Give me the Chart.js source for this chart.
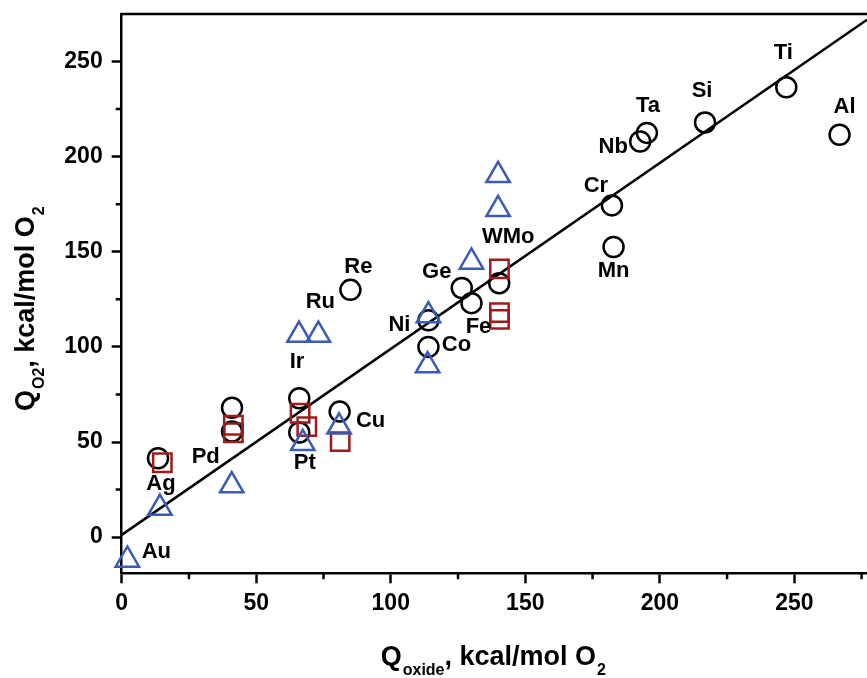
<!DOCTYPE html>
<html><head><meta charset="utf-8">
<script src="https://cdn.jsdelivr.net/npm/chart.js@4.4.0/dist/chart.umd.min.js"></script>
<style>html,body{margin:0;padding:0;background:#fff;overflow:hidden}canvas{display:block}</style>
</head><body><canvas id="c" width="867" height="678"></canvas>
<script>
// ---- data ----
const circleNames = ['Ag','Pd','Pd','Pt','Pt','Cu','Re','Ni','Co','Ge','Fe','Mo','Cr','Mn','Nb','Ta','Si','Ti','Al'];
const circleX = [13.5,41,41,66,66,81,85,114,114,126.4,130,140.3,182.2,182.8,192.7,195.2,216.8,247,266.8];
const circleY = [41.5,68,55.5,73,55,66,130,114,100,131,123,133.5,174.4,152.5,208,212.5,218,236.5,211.5];
const triangleX = [2.1,14.2,40.9,65.9,73.1,67.3,80.8,114,113.7,130,139.9,139.9];
const triangleY = [-12,15.3,27.1,106.2,106.2,49.3,58,116.5,90.2,144.7,172.3,190.2];
const squareX = [15.1,41.5,41.5,66.3,68.8,81.2,140.4,140.4,140.4];
const squareY = [39.1,58.8,54.9,65.1,58.1,50.2,141,118,114.5];
const fitX = [0, 277];
const fitY = [1.2, 272];
const xTicks = [0,50,100,150,200,250];
const xMinor = [25,75,125,175,225,275];
const yTicks = [0,50,100,150,200,250];
const yMinor = [25,75,125,175,225];
const labelNames  = ['Ti','Si','Ta','Nb','Cr','Mn','Al','WMo','Ge','Fe','Co','Ni','Re','Ru','Ir','Cu','Pt','Pd','Ag','Au'];
const labelSeries = ['c','c','c','c','c','c','c','c','c','c','c','c','c','t','t','c','t','t','c','t'];
const labelIndex  = [17,16,15,14,12,13,18,11,9,10,8,7,6,4,3,5,5,2,0,0];
const labelOffsets = [[-3,-34],[-3,-31],[1,-27],[-27,5],[-16,-19],[0,24],[5,-28],[9,-46],[-25,-16],[7,24],[28,-2],[-29,5],[8,-23],[2,-33],[-2,27],[31,9],[2,20],[-26,-29],[3,26],[29,-8]];
const xTitleParts = [['Q',0],['oxide',1],[', kcal/mol O',0],['2',1]];
const yTitleParts = [['Q',0],['O2',1],[', kcal/mol O',0],['2',1]];

// ---- style ----
const FONT = "'Liberation Sans', Arial, sans-serif";
const BLUE = '#3b5bb5';
const RED = '#9c1c1c';
const pts = (xs, ys) => xs.map((x, i) => ({x: x, y: ys[i]}));

function drawRich(ctx, parts, cx, baseY) {
  const mainF = 'bold 27px ' + FONT, subF = 'bold 16px ' + FONT;
  let total = 0;
  parts.forEach(p => { ctx.font = p[1] ? subF : mainF; total += ctx.measureText(p[0]).width + (p[1] ? 1 : 0); });
  let x = cx - total / 2;
  ctx.textAlign = 'left'; ctx.textBaseline = 'alphabetic';
  parts.forEach(p => {
    ctx.font = p[1] ? subF : mainF;
    if (p[1]) x += 1;
    ctx.fillText(p[0], x, baseY + (p[1] ? 10 : 0));
    x += ctx.measureText(p[0]).width;
  });
}

const decor = {
  id: 'decor',
  afterDatasetsDraw(chart) {
    const ctx = chart.ctx;
    const metas = {t: chart.getDatasetMeta(0), s: chart.getDatasetMeta(1), c: chart.getDatasetMeta(2)};
    ctx.save();
    ctx.fillStyle = '#000';
    ctx.font = 'bold 22px ' + FONT;
    ctx.textAlign = 'center'; ctx.textBaseline = 'middle';
    labelNames.forEach((n, i) => {
      const el = metas[labelSeries[i]].data[labelIndex[i]];
      ctx.fillText(n, el.x + labelOffsets[i][0], el.y + labelOffsets[i][1]);
    });
    ctx.restore();
  },
  afterDraw(chart) {
    const {ctx, chartArea: a, scales: {x, y}} = chart;
    ctx.save();
    ctx.strokeStyle = '#000';
    ctx.lineWidth = 2.5;
    ctx.beginPath();
    ctx.moveTo(a.left - 1, a.top); ctx.lineTo(a.right + 5, a.top);
    ctx.stroke();
    ctx.beginPath();
    xMinor.forEach(v => { const px = x.getPixelForValue(v); ctx.moveTo(px, a.bottom); ctx.lineTo(px, a.bottom + 6); });
    yMinor.forEach(v => { const py = y.getPixelForValue(v); ctx.moveTo(a.left, py); ctx.lineTo(a.left - 6, py); });
    ctx.stroke();
    ctx.fillStyle = '#000';
    drawRich(ctx, xTitleParts, (a.left + a.right) / 2 - 1, a.bottom + 92);
    ctx.translate(a.left - 88, (a.top + a.bottom) / 2 + 15);
    ctx.rotate(-Math.PI / 2);
    drawRich(ctx, yTitleParts, 0, 0);
    ctx.restore();
  }
};

const noPad = s => { s.paddingTop = 0; s.paddingBottom = 0; s.paddingLeft = 0; s.paddingRight = 0; };
const tickFont = {family: FONT, size: 23, weight: 'bold'};
new Chart(document.getElementById('c'), {
  type: 'scatter',
  data: {datasets: [
    {label: 'tri', data: pts(triangleX, triangleY), pointStyle: 'triangle', pointRadius: 13.5, borderColor: BLUE, backgroundColor: 'rgba(0,0,0,0)', borderWidth: 2.5, order: 1, clip: false},
    {label: 'sq', data: pts(squareX, squareY), pointStyle: 'rect', pointRadius: 13, borderColor: RED, backgroundColor: 'rgba(0,0,0,0)', borderWidth: 2.5, order: 2, clip: false},
    {label: 'circ', data: pts(circleX, circleY), pointStyle: 'circle', pointRadius: 10, borderColor: '#000', backgroundColor: 'rgba(0,0,0,0)', borderWidth: 2.5, order: 3, clip: false},
    {type: 'line', label: 'fit', data: pts(fitX, fitY), showLine: true, pointRadius: 0, borderColor: '#000', borderWidth: 2.5, fill: false, order: 4}
  ]},
  options: {
    responsive: false, animation: false, devicePixelRatio: 1,
    layout: {autoPadding: false, padding: {top: 14, right: 0, left: 0, bottom: 0}},
    plugins: {legend: {display: false}, tooltip: {enabled: false}},
    scales: {
      x: {type: 'linear', min: 0, max: 277,
        afterBuildTicks: s => { s.ticks = xTicks.map(v => ({value: v})); },
        afterFit: s => { s.height = 104.7; noPad(s); },
        grid: {display: true, drawOnChartArea: false, drawTicks: true, tickLength: 10, tickWidth: 2.5, tickColor: '#000', color: '#000'},
        border: {display: true, color: '#000', width: 2.5},
        ticks: {color: '#000', font: tickFont, padding: 7, maxRotation: 0, autoSkip: false}},
      y: {type: 'linear', min: -19, max: 275,
        afterBuildTicks: s => { s.ticks = yTicks.map(v => ({value: v})); },
        afterFit: s => { s.width = 121.7; noPad(s); },
        grid: {display: true, drawOnChartArea: false, drawTicks: true, tickLength: 10, tickWidth: 2.5, tickColor: '#000', color: '#000'},
        border: {display: true, color: '#000', width: 2.5},
        ticks: {color: '#000', font: tickFont, padding: 9, autoSkip: false}}
    }
  },
  plugins: [decor]
});
</script></body></html>
